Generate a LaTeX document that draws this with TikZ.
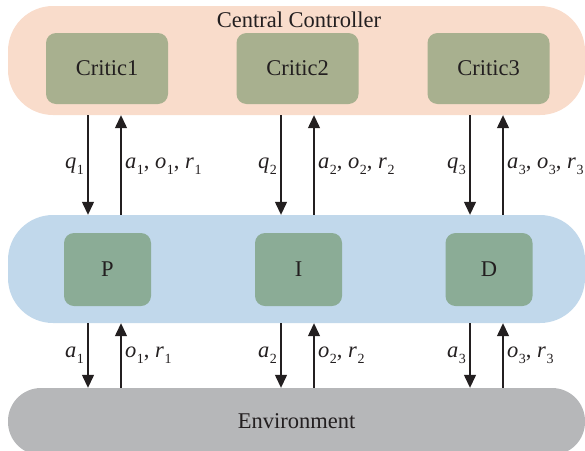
\documentclass[tikz,border=0pt]{standalone}
\usepackage{fontspec}
\setmainfont{Liberation Serif}
\usetikzlibrary{arrows.meta}

\definecolor{ctrlbg}{HTML}{F9DCCB}
\definecolor{criticbg}{HTML}{A8B08F}
\definecolor{pidbg}{HTML}{C1D8EB}
\definecolor{termbg}{HTML}{8BAC96}
\definecolor{envbg}{HTML}{B6B7B9}
\definecolor{ink}{HTML}{231F20}

% italic symbol with an upright, lowered index
\newcommand\symidx[2]{\textit{#1}\kern0.5pt\raisebox{-0.3em}{\fontsize{14}{14}\selectfont #2}}

\begin{document}
\begin{tikzpicture}[x=1pt,y=-1pt,
  every node/.style={text=ink, font=\fontsize{22.5}{26}\selectfont},
  panel/.style={draw=none, inner sep=0pt},
  critic/.style={draw=none, fill=criticbg, rounded corners=10pt,
    minimum width=122pt, minimum height=71pt, inner sep=0pt},
  term/.style={draw=none, fill=termbg, rounded corners=10pt,
    minimum width=87pt, minimum height=73pt, inner sep=0pt},
  flow/.style={draw=ink, line width=1.3pt, -{Triangle[width=12pt,length=13pt]}},
  lbl/.style={inner sep=0pt}
]
\useasboundingbox (0,0) rectangle (585,450);

% layers
\node[panel, fill=ctrlbg, rounded corners=45pt, minimum width=577pt, minimum height=109pt] (cc) at (296.5,60.5) {};
\node[anchor=base, inner sep=0pt] (cctitle) at (299,27) {Central Controller};
\node[panel, fill=pidbg, rounded corners=45pt, minimum width=577pt, minimum height=108pt] (pid) at (296.5,269) {};
\node[panel, fill=envbg, rounded corners=33pt, minimum width=577pt, minimum height=67pt] (env) at (296.5,421.5) {\raisebox{-2pt}{Environment}};

% critics
\node[critic] (c1) at (107,68.5) {Critic1};
\node[critic] (c2) at (297.5,68.5) {Critic2};
\node[critic] (c3) at (488.5,68.5) {Critic3};

% controller terms
\node[term] (tp) at (107.5,269.5) {P};
\node[term] (ti) at (298.5,269.5) {I};
\node[term] (td) at (489,269.5) {D};

% arrow columns
\coordinate (d1) at (88,0);  \coordinate (u1) at (121,0);
\coordinate (d2) at (281,0); \coordinate (u2) at (314,0);
\coordinate (d3) at (470,0); \coordinate (u3) at (503,0);

% controller <-> PID
\draw[flow] (cc.south -| d1) -- (pid.north -| d1);
\draw[flow] (pid.north -| u1) -- (cc.south -| u1);
\draw[flow] (cc.south -| d2) -- (pid.north -| d2);
\draw[flow] (pid.north -| u2) -- (cc.south -| u2);
\draw[flow] (cc.south -| d3) -- (pid.north -| d3);
\draw[flow] (pid.north -| u3) -- (cc.south -| u3);

% PID <-> environment
\draw[flow] (pid.south -| d1) -- (env.north -| d1);
\draw[flow] (env.north -| u1) -- (pid.south -| u1);
\draw[flow] (pid.south -| d2) -- (env.north -| d2);
\draw[flow] (env.north -| u2) -- (pid.south -| u2);
\draw[flow] (pid.south -| d3) -- (env.north -| d3);
\draw[flow] (env.north -| u3) -- (pid.south -| u3);

% upper labels
\node[lbl, anchor=base east] (lq1) at (84,168) {\symidx{q}{1}};
\node[lbl, anchor=base west] (la1) at (125,168) {\symidx{a}{1}, \symidx{o}{1}, \symidx{r}{1}};
\node[lbl, anchor=base east] (lq2) at (277,168) {\symidx{q}{2}};
\node[lbl, anchor=base west] (la2) at (318,168) {\symidx{a}{2}, \symidx{o}{2}, \symidx{r}{2}};
\node[lbl, anchor=base east] (lq3) at (466,168) {\symidx{q}{3}};
\node[lbl, anchor=base west] (la3) at (507,168) {\symidx{a}{3}, \symidx{o}{3}, \symidx{r}{3}};

% lower labels
\node[lbl, anchor=base east] (lb1) at (84,357) {\symidx{a}{1}};
\node[lbl, anchor=base west] (lo1) at (125,357) {\symidx{o}{1}, \symidx{r}{1}};
\node[lbl, anchor=base east] (lb2) at (277,357) {\symidx{a}{2}};
\node[lbl, anchor=base west] (lo2) at (318,357) {\symidx{o}{2}, \symidx{r}{2}};
\node[lbl, anchor=base east] (lb3) at (466,357) {\symidx{a}{3}};
\node[lbl, anchor=base west] (lo3) at (507,357) {\symidx{o}{3}, \symidx{r}{3}};
\end{tikzpicture}
\end{document}
